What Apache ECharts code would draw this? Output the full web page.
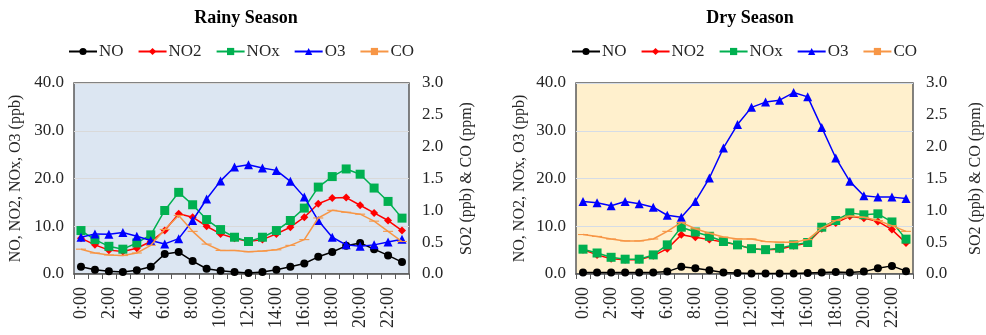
<!DOCTYPE html>
<html>
<head>
<meta charset="utf-8">
<script src="https://cdn.jsdelivr.net/npm/echarts@6/dist/echarts.min.js"></script>
<style>html,body{margin:0;padding:0;background:#fff}#c{width:986px;height:335px}</style>
</head>
<body>
<div id="c"></div>
<script>
var hours = ["0:00","1:00","2:00","3:00","4:00","5:00","6:00","7:00","8:00","9:00","10:00","11:00","12:00","13:00","14:00","15:00","16:00","17:00","18:00","19:00","20:00","21:00","22:00","23:00"];
var seriesNames = ["NO","NO2","NOx","O3","CO"];
var leftTicks = [0,10,20,30,40];
var rightTicks = [0,0.5,1,1.5,2,2.5,3];

var rainyNO  = [1.5,0.9,0.6,0.4,0.8,1.5,4.2,4.6,2.7,1.1,0.7,0.4,0.2,0.4,0.9,1.5,2.2,3.6,4.6,5.9,6.5,5.2,3.9,2.5];
var rainyNO2 = [7.5,6.1,5.0,4.7,5.4,6.8,9.1,12.6,11.9,10.0,8.4,7.5,6.8,7.2,8.4,9.8,11.9,14.7,15.9,16.0,14.4,12.8,11.2,9.1];
var rainyNOx = [9.1,7.2,5.8,5.2,6.5,8.2,13.3,17.1,14.5,11.4,9.3,7.7,6.8,7.7,9.1,11.2,13.8,18.2,20.4,22.0,20.9,18.0,15.2,11.7];
var rainyO3  = [7.7,8.4,8.3,8.7,7.9,7.0,6.3,7.4,11.2,15.7,19.5,22.4,22.9,22.2,21.7,19.4,16.1,11.2,7.7,6.1,5.8,6.1,6.7,7.3];
var rainyCO  = [0.39,0.33,0.30,0.29,0.33,0.45,0.70,0.92,0.67,0.47,0.37,0.37,0.35,0.36,0.38,0.45,0.54,0.88,1.00,0.97,0.94,0.83,0.67,0.51];

var dryNO  = [0.3,0.3,0.3,0.3,0.3,0.3,0.5,1.5,1.2,0.8,0.3,0.2,0.1,0.1,0.1,0.1,0.2,0.3,0.4,0.3,0.5,1.2,1.7,0.6];
var dryNO2 = [5.1,4.0,3.2,3.0,3.0,3.8,5.3,8.2,7.7,7.2,6.7,6.1,5.3,5.1,5.2,5.9,6.5,9.5,10.7,12.1,11.7,11.0,9.3,6.5];
var dryNOx = [5.2,4.4,3.5,3.1,3.1,4.0,6.1,9.8,8.8,7.9,6.8,6.1,5.3,5.1,5.4,6.1,6.6,9.8,11.2,12.8,12.4,12.6,10.9,7.3];
var dryO3  = [15.2,14.9,14.3,15.2,14.7,14.0,12.3,11.9,15.2,20.1,26.4,31.3,34.9,36.0,36.4,38.0,37.1,30.7,24.3,19.4,16.4,16.1,16.1,15.8];
var dryCO  = [0.62,0.59,0.55,0.52,0.52,0.55,0.67,0.81,0.71,0.64,0.58,0.55,0.55,0.51,0.50,0.50,0.54,0.72,0.84,0.91,0.89,0.84,0.76,0.67];

var colors = ["#000000","#FF0000","#00B050","#0000FF","#F79646"];
var symbols = ["circle","diamond","rect","triangle","path://M0,0h12v4h-12z"];
var symSizes = [8,8,9,9,[10,3.3]];
var keepAspect = [false,false,false,false,true];
var FONT = "Liberation Serif";

var chart = echarts.init(document.getElementById('c'), null, {renderer:'canvas'});

function mkSeries(dataArr, gi) {
  return dataArr.map(function(d, i){
    var isCO = i === 4;
    return {
      name: seriesNames[i], type: 'line', data: d,
      xAxisIndex: gi, yAxisIndex: gi*2 + (isCO ? 1 : 0),
      symbol: symbols[i], symbolSize: symSizes[i], showSymbol: true,
      symbolKeepAspect: keepAspect[i],
      lineStyle: {color: colors[i], width: 1.5},
      itemStyle: {color: colors[i]},
      animation: false, z: 2 + i
    };
  });
}

var grids = [
  {left: 74, top: 83, width: 335, height: 191, bg: '#DCE6F2', split: '#D9D9D9'},
  {left: 576, top: 83, width: 337, height: 191, bg: '#FFF0CD', split: '#D5DCE6'}
];

var option = {
  backgroundColor: '#ffffff',
  title: [
    {text: 'Rainy Season', left: 241, top: 4, textAlign: 'center', textStyle: {fontFamily: FONT, fontWeight: 'bold', fontSize: 18, color: '#000'}},
    {text: 'Dry Season', left: 745, top: 4, textAlign: 'center', textStyle: {fontFamily: FONT, fontWeight: 'bold', fontSize: 18, color: '#000'}}
  ],
  legend: [0,1].map(function(gi){
    return {
      data: seriesNames, left: gi === 0 ? 63 : 566, top: 38, itemWidth: 28, itemHeight: 9, itemGap: 14,
      textStyle: {fontFamily: FONT, fontSize: 17, color: '#262626', padding: [0,0,0,-3]},
      selectedMode: false
    };
  }),
  grid: grids.map(function(g){
    return {left: g.left, top: g.top, width: g.width, height: g.height, show: true,
      backgroundColor: g.bg, borderColor: '#595959', borderWidth: 1.5, containLabel: false};
  }),
  xAxis: [0,1].map(function(gi){
    return {
      type: 'category', gridIndex: gi, data: hours, boundaryGap: true,
      axisLine: {show: true, lineStyle: {color: '#595959', width: 1.5}},
      axisTick: {show: true, interval: 0, length: 5, lineStyle: {color: '#595959', width: 1}},
      axisLabel: {interval: 1, rotate: 90, fontFamily: FONT, fontSize: 18, color: '#262626', margin: 13},
      splitLine: {show: false}
    };
  }),
  yAxis: [
    {type: 'value', gridIndex: 0, min: leftTicks[0], max: leftTicks[leftTicks.length-1], interval: 10, position: 'left',
     name: 'NO, NO2, NOx, O3 (ppb)', nameLocation: 'middle', nameGap: 50,
     nameTextStyle: {fontFamily: FONT, fontSize: 16, color: '#262626'},
     axisLine: {show: false}, axisTick: {show: false},
     axisLabel: {fontFamily: FONT, fontSize: 17, color: '#262626', margin: 10, formatter: function(v){return v.toFixed(1);}},
     splitLine: {show: true, lineStyle: {color: grids[0].split, width: 1}}},
    {type: 'value', gridIndex: 0, min: rightTicks[0], max: rightTicks[rightTicks.length-1], interval: 0.5, position: 'right',
     name: 'SO2 (ppb) & CO (ppm)', nameLocation: 'middle', nameGap: 50, nameRotate: 90,
     nameTextStyle: {fontFamily: FONT, fontSize: 16, color: '#262626'},
     axisLine: {show: false}, axisTick: {show: false},
     axisLabel: {fontFamily: FONT, fontSize: 17, color: '#262626', margin: 13, formatter: function(v){return v.toFixed(1);}},
     splitLine: {show: false}},
    {type: 'value', gridIndex: 1, min: leftTicks[0], max: leftTicks[leftTicks.length-1], interval: 10, position: 'left',
     name: 'NO, NO2, NOx, O3 (ppb)', nameLocation: 'middle', nameGap: 48,
     nameTextStyle: {fontFamily: FONT, fontSize: 16, color: '#262626'},
     axisLine: {show: false}, axisTick: {show: false},
     axisLabel: {fontFamily: FONT, fontSize: 17, color: '#262626', margin: 10, formatter: function(v){return v.toFixed(1);}},
     splitLine: {show: true, lineStyle: {color: grids[1].split, width: 1}}},
    {type: 'value', gridIndex: 1, min: rightTicks[0], max: rightTicks[rightTicks.length-1], interval: 0.5, position: 'right',
     name: 'SO2 (ppb) & CO (ppm)', nameLocation: 'middle', nameGap: 55, nameRotate: 90,
     nameTextStyle: {fontFamily: FONT, fontSize: 16, color: '#262626'},
     axisLine: {show: false}, axisTick: {show: false},
     axisLabel: {fontFamily: FONT, fontSize: 17, color: '#262626', margin: 13, formatter: function(v){return v.toFixed(1);}},
     splitLine: {show: false}}
  ],
  series: mkSeries([rainyNO, rainyNO2, rainyNOx, rainyO3, rainyCO], 0)
    .concat(mkSeries([dryNO, dryNO2, dryNOx, dryO3, dryCO], 1))
};
chart.setOption(option);
</script>
</body>
</html>
